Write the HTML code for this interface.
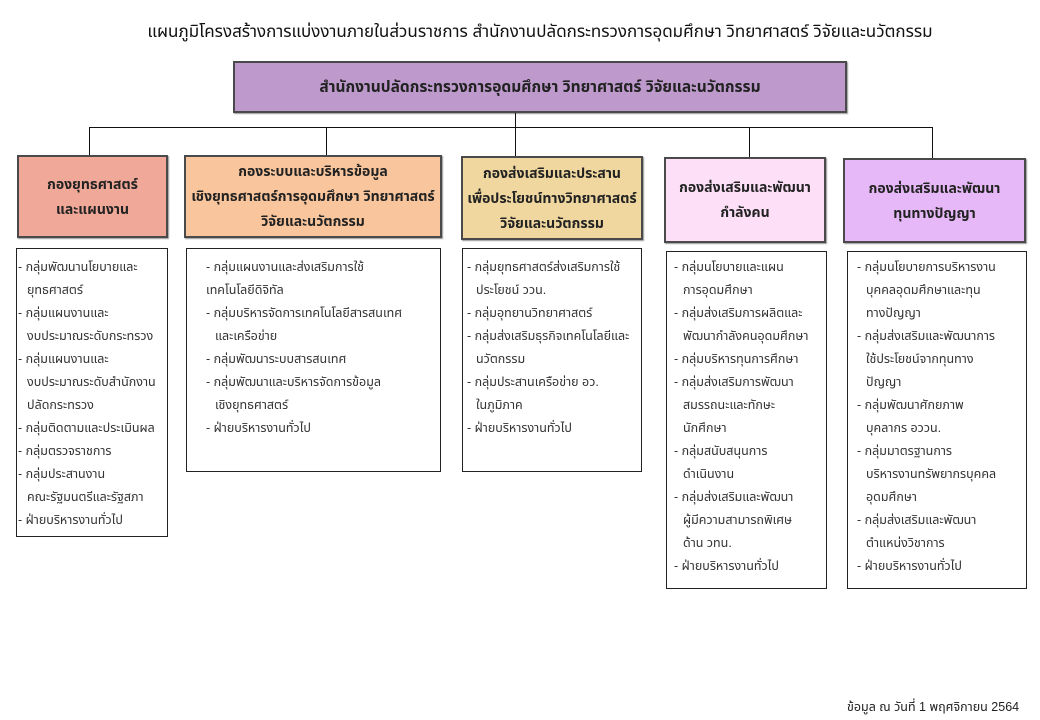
<!DOCTYPE html>
<html><head><meta charset="utf-8">
<style>
*{margin:0;padding:0;box-sizing:border-box}
body{width:1040px;height:720px;background:#fff;position:relative;overflow:hidden;font-family:"Liberation Sans","Noto Sans Thai","Tahoma","DejaVu Sans",sans-serif;color:#222}
.a{position:absolute}
.hb{position:absolute;border:2px solid #4a4a4a;display:flex;flex-direction:column;justify-content:center;align-items:center;font-weight:bold;font-size:14px;line-height:25px;text-align:center;color:#222;box-shadow:1px 1px 1px #999}
.db{position:absolute;border:1px solid #222;background:#fff}
.ln{position:absolute;white-space:nowrap;font-size:12.5px;line-height:23px;color:#333}
.h{position:absolute;background:#111;height:1px}
.v{position:absolute;background:#111;width:1px}
</style></head><body>
<div class="a" style="left:0;width:1080px;top:21px;text-align:center;font-size:17px;line-height:22px;color:#111">แผนภูมิโครงสร้างการแบ่งงานภายในส่วนราชการ สำนักงานปลัดกระทรวงการอุดมศึกษา วิทยาศาสตร์ วิจัยและนวัตกรรม</div>

<div class="hb" style="left:233px;top:61px;width:614px;height:52px;background:#bd99cc;font-weight:bold;font-size:15.5px">สำนักงานปลัดกระทรวงการอุดมศึกษา วิทยาศาสตร์ วิจัยและนวัตกรรม</div>

<div class="v" style="left:515px;top:113px;height:43px"></div>
<div class="h" style="left:89px;top:127px;width:844px"></div>
<div class="v" style="left:89px;top:127px;height:28px"></div>
<div class="v" style="left:326px;top:127px;height:28px"></div>
<div class="v" style="left:749px;top:127px;height:30px"></div>
<div class="v" style="left:932px;top:127px;height:31px"></div>

<div class="hb" style="left:17px;top:155px;width:151px;height:83px;background:#f0a898">กองยุทธศาสตร์<br>และแผนงาน</div>
<div class="hb" style="left:184px;top:155px;width:258px;height:83px;background:#f8c59c">กองระบบและบริหารข้อมูล<br>เชิงยุทธศาสตร์การอุดมศึกษา วิทยาศาสตร์<br>วิจัยและนวัตกรรม</div>
<div class="hb" style="left:461px;top:156px;width:182px;height:84px;background:#efd79f">กองส่งเสริมและประสาน<br>เพื่อประโยชน์ทางวิทยาศาสตร์<br>วิจัยและนวัตกรรม</div>
<div class="hb" style="left:664px;top:157px;width:162px;height:86px;background:#fde0f8">กองส่งเสริมและพัฒนา<br>กำลังคน</div>
<div class="hb" style="left:843px;top:158px;width:183px;height:85px;background:#e6b8f7">กองส่งเสริมและพัฒนา<br>ทุนทางปัญญา</div>

<div class="db" style="left:16px;top:248px;width:152px;height:289px"></div>
<div class="db" style="left:186px;top:248px;width:255px;height:224px"></div>
<div class="db" style="left:462px;top:248px;width:180px;height:224px"></div>
<div class="db" style="left:666px;top:251px;width:161px;height:338px"></div>
<div class="db" style="left:847px;top:251px;width:180px;height:338px"></div>

<div class="ln" style="left:18px;top:256px">- กลุ่มพัฒนานโยบายและ</div>
<div class="ln" style="left:27px;top:279px">ยุทธศาสตร์</div>
<div class="ln" style="left:18px;top:302px">- กลุ่มแผนงานและ</div>
<div class="ln" style="left:27px;top:325px">งบประมาณระดับกระทรวง</div>
<div class="ln" style="left:18px;top:348px">- กลุ่มแผนงานและ</div>
<div class="ln" style="left:27px;top:371px">งบประมาณระดับสำนักงาน</div>
<div class="ln" style="left:27px;top:394px">ปลัดกระทรวง</div>
<div class="ln" style="left:18px;top:417px">- กลุ่มติดตามและประเมินผล</div>
<div class="ln" style="left:18px;top:440px">- กลุ่มตรวจราชการ</div>
<div class="ln" style="left:18px;top:463px">- กลุ่มประสานงาน</div>
<div class="ln" style="left:27px;top:486px">คณะรัฐมนตรีและรัฐสภา</div>
<div class="ln" style="left:18px;top:509px">- ฝ่ายบริหารงานทั่วไป</div>

<div class="ln" style="left:206px;top:256px">- กลุ่มแผนงานและส่งเสริมการใช้</div>
<div class="ln" style="left:206px;top:279px">เทคโนโลยีดิจิทัล</div>
<div class="ln" style="left:206px;top:302px">- กลุ่มบริหารจัดการเทคโนโลยีสารสนเทศ</div>
<div class="ln" style="left:215px;top:325px">และเครือข่าย</div>
<div class="ln" style="left:206px;top:348px">- กลุ่มพัฒนาระบบสารสนเทศ</div>
<div class="ln" style="left:206px;top:371px">- กลุ่มพัฒนาและบริหารจัดการข้อมูล</div>
<div class="ln" style="left:215px;top:394px">เชิงยุทธศาสตร์</div>
<div class="ln" style="left:206px;top:417px">- ฝ่ายบริหารงานทั่วไป</div>

<div class="ln" style="left:467px;top:256px">- กลุ่มยุทธศาสตร์ส่งเสริมการใช้</div>
<div class="ln" style="left:476px;top:279px">ประโยชน์ ววน.</div>
<div class="ln" style="left:467px;top:302px">- กลุ่มอุทยานวิทยาศาสตร์</div>
<div class="ln" style="left:467px;top:325px">- กลุ่มส่งเสริมธุรกิจเทคโนโลยีและ</div>
<div class="ln" style="left:476px;top:348px">นวัตกรรม</div>
<div class="ln" style="left:467px;top:371px">- กลุ่มประสานเครือข่าย อว.</div>
<div class="ln" style="left:476px;top:394px">ในภูมิภาค</div>
<div class="ln" style="left:467px;top:417px">- ฝ่ายบริหารงานทั่วไป</div>

<div class="ln" style="left:674px;top:256px">- กลุ่มนโยบายและแผน</div>
<div class="ln" style="left:683px;top:279px">การอุดมศึกษา</div>
<div class="ln" style="left:674px;top:302px">- กลุ่มส่งเสริมการผลิตและ</div>
<div class="ln" style="left:683px;top:325px">พัฒนากำลังคนอุดมศึกษา</div>
<div class="ln" style="left:674px;top:348px">- กลุ่มบริหารทุนการศึกษา</div>
<div class="ln" style="left:674px;top:371px">- กลุ่มส่งเสริมการพัฒนา</div>
<div class="ln" style="left:683px;top:394px">สมรรถนะและทักษะ</div>
<div class="ln" style="left:683px;top:417px">นักศึกษา</div>
<div class="ln" style="left:674px;top:440px">- กลุ่มสนับสนุนการ</div>
<div class="ln" style="left:683px;top:463px">ดำเนินงาน</div>
<div class="ln" style="left:674px;top:486px">- กลุ่มส่งเสริมและพัฒนา</div>
<div class="ln" style="left:683px;top:509px">ผู้มีความสามารถพิเศษ</div>
<div class="ln" style="left:683px;top:532px">ด้าน วทน.</div>
<div class="ln" style="left:674px;top:555px">- ฝ่ายบริหารงานทั่วไป</div>

<div class="ln" style="left:857px;top:256px">- กลุ่มนโยบายการบริหารงาน</div>
<div class="ln" style="left:866px;top:279px">บุคคลอุดมศึกษาและทุน</div>
<div class="ln" style="left:866px;top:302px">ทางปัญญา</div>
<div class="ln" style="left:857px;top:325px">- กลุ่มส่งเสริมและพัฒนาการ</div>
<div class="ln" style="left:866px;top:348px">ใช้ประโยชน์จากทุนทาง</div>
<div class="ln" style="left:866px;top:371px">ปัญญา</div>
<div class="ln" style="left:857px;top:394px">- กลุ่มพัฒนาศักยภาพ</div>
<div class="ln" style="left:866px;top:417px">บุคลากร อววน.</div>
<div class="ln" style="left:857px;top:440px">- กลุ่มมาตรฐานการ</div>
<div class="ln" style="left:866px;top:463px">บริหารงานทรัพยากรบุคคล</div>
<div class="ln" style="left:866px;top:486px">อุดมศึกษา</div>
<div class="ln" style="left:857px;top:509px">- กลุ่มส่งเสริมและพัฒนา</div>
<div class="ln" style="left:866px;top:532px">ตำแหน่งวิชาการ</div>
<div class="ln" style="left:857px;top:555px">- ฝ่ายบริหารงานทั่วไป</div>

<div class="ln" style="left:847px;top:696px;font-size:12.5px;color:#222">ข้อมูล ณ วันที่ 1 พฤศจิกายน 2564</div>
</body></html>
